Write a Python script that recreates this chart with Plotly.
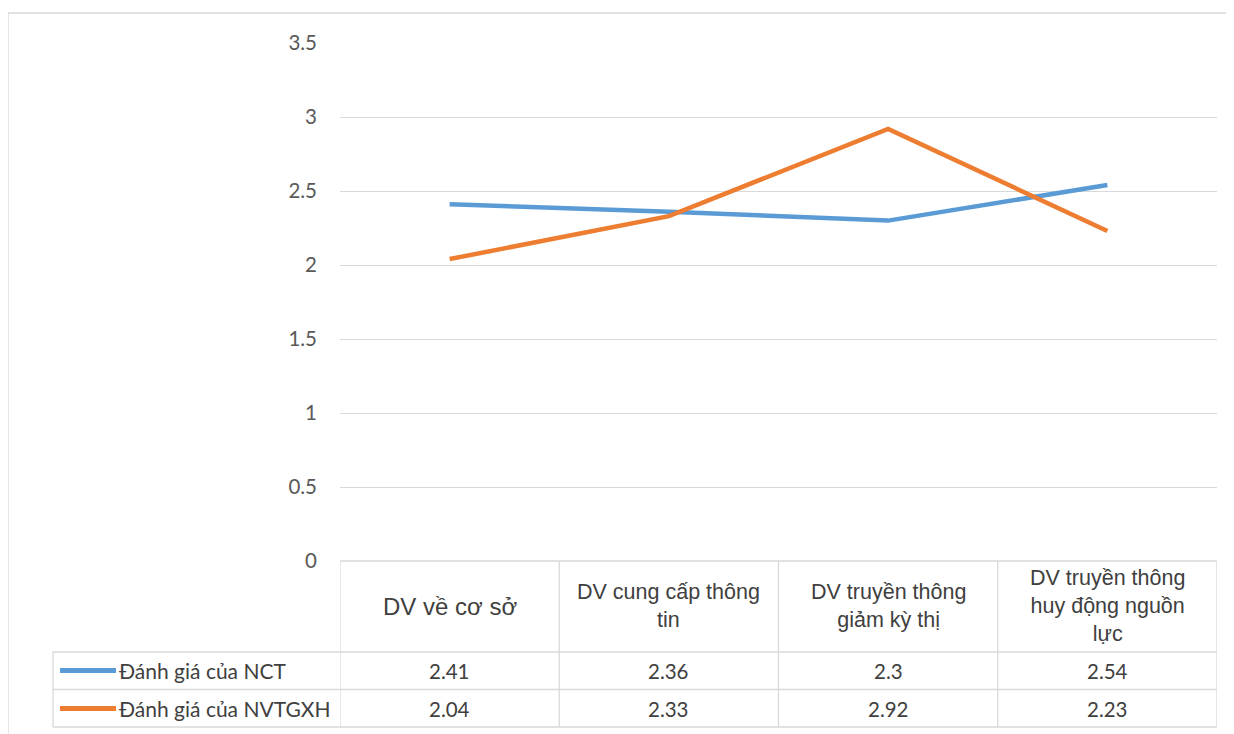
import plotly.graph_objects as go

categories = ["DV về cơ sở", "DV cung cấp thông<br>tin", "DV truyền thông<br>giảm kỳ thị",
              "DV truyền thông<br>huy động nguồn<br>lực"]
header_sizes = [24, 21.5, 21.5, 21.5]
series_names = ["Đánh giá của NCT", "Đánh giá của NVTGXH"]
nct = [2.41, 2.36, 2.3, 2.54]
nvtgxh = [2.04, 2.33, 2.92, 2.23]
value_labels = [["2.41", "2.36", "2.3", "2.54"], ["2.04", "2.33", "2.92", "2.23"]]
colors = ["#5B9BD5", "#ED7D31"]
y_ticks = [0, 0.5, 1, 1.5, 2, 2.5, 3, 3.5]
y_tick_text = ["0", "0.5", "1", "1.5", "2", "2.5", "3", "3.5"]

OFF = 8  # page body margin of the browser
W, H = 1234 - OFF, 734 - OFF
L, R, T, B = 340 - OFF, 1217 - OFF, 43 - OFF, 561 - OFF  # plot area in figure pixels

def px(xp):
    return (xp - OFF - L) / (R - L)

def py(yp):
    return (B - (yp - OFF)) / (B - T)

xs = list(range(len(categories)))
fig = go.Figure()
for name, vals, col in zip(series_names, [nct, nvtgxh], colors):
    fig.add_trace(go.Scatter(x=xs, y=vals, mode="lines", name=name,
                             line=dict(color=col, width=4.5), showlegend=False))

grid = "#D9D9D9"
shapes = []
# outer chart border
shapes.append(dict(type="rect", xref="paper", yref="paper", x0=px(8), x1=px(1250),
                   y0=py(760), y1=py(13), line=dict(color="#D9D9D9", width=1.3),
                   layer="below"))
# table lines
row_lines = [652, 689.5, 727]
shapes.append(dict(type="line", xref="x", yref="paper", x0=-0.5, x1=len(categories) - 0.5,
                   y0=0, y1=0, line=dict(color=grid, width=1.3)))
for yy in row_lines:
    shapes.append(dict(type="line", xref="paper", yref="paper", x0=px(53), x1=1,
                       y0=py(yy), y1=py(yy), line=dict(color=grid, width=1.3)))
shapes.append(dict(type="line", xref="paper", yref="paper", x0=px(53), x1=px(53),
                   y0=py(652), y1=py(727), line=dict(color=grid, width=1.3)))
for i in range(len(categories) + 1):
    shapes.append(dict(type="line", xref="x", yref="paper", x0=i - 0.5, x1=i - 0.5,
                       y0=0, y1=py(727), line=dict(color=grid, width=1.3)))

annotations = []
for i, c in enumerate(categories):
    annotations.append(dict(x=i, xref="x", y=py(606), yref="paper", text=c, showarrow=False,
                            xanchor="center", yanchor="middle", align="center",
                            font=dict(family="Liberation Sans, Arial", size=header_sizes[i],
                                      color="#404040")))
row_centers = [670.5, 708.5]
for r, (name, col) in enumerate(zip(series_names, colors)):
    yc = py(row_centers[r])
    shapes.append(dict(type="line", xref="paper", yref="paper", x0=px(60), x1=px(116),
                       y0=yc, y1=yc, line=dict(color=col, width=5)))
    annotations.append(dict(x=px(117), xref="paper", y=yc, yref="paper", text=name,
                            showarrow=False, xanchor="left", yanchor="middle",
                            font=dict(family="Lato, Open Sans", size=21, color="#404040")))
    for i in range(len(categories)):
        annotations.append(dict(x=i, xref="x", y=yc, yref="paper", text=value_labels[r][i],
                                showarrow=False, xanchor="center", yanchor="middle",
                                font=dict(family="Lato, Open Sans", size=20.5, color="#404040")))

fig.update_layout(
    width=W, height=H, autosize=False,
    margin=dict(l=L, r=W - R, t=T, b=H - B, pad=0),
    paper_bgcolor="white", plot_bgcolor="white",
    xaxis=dict(range=[-0.5, len(categories) - 0.5], showticklabels=False, showgrid=False,
               zeroline=False, showline=False, fixedrange=True),
    yaxis=dict(range=[0, 3.5], tickvals=y_ticks, ticktext=y_tick_text, showgrid=True,
               gridcolor=grid, gridwidth=1.3, zeroline=False, showline=False,
               ticklabelstandoff=22,
               tickfont=dict(family="Lato, Open Sans", size=20.5, color="#595959")),
    shapes=shapes, annotations=annotations,
)

fig.write_html("out.html")
